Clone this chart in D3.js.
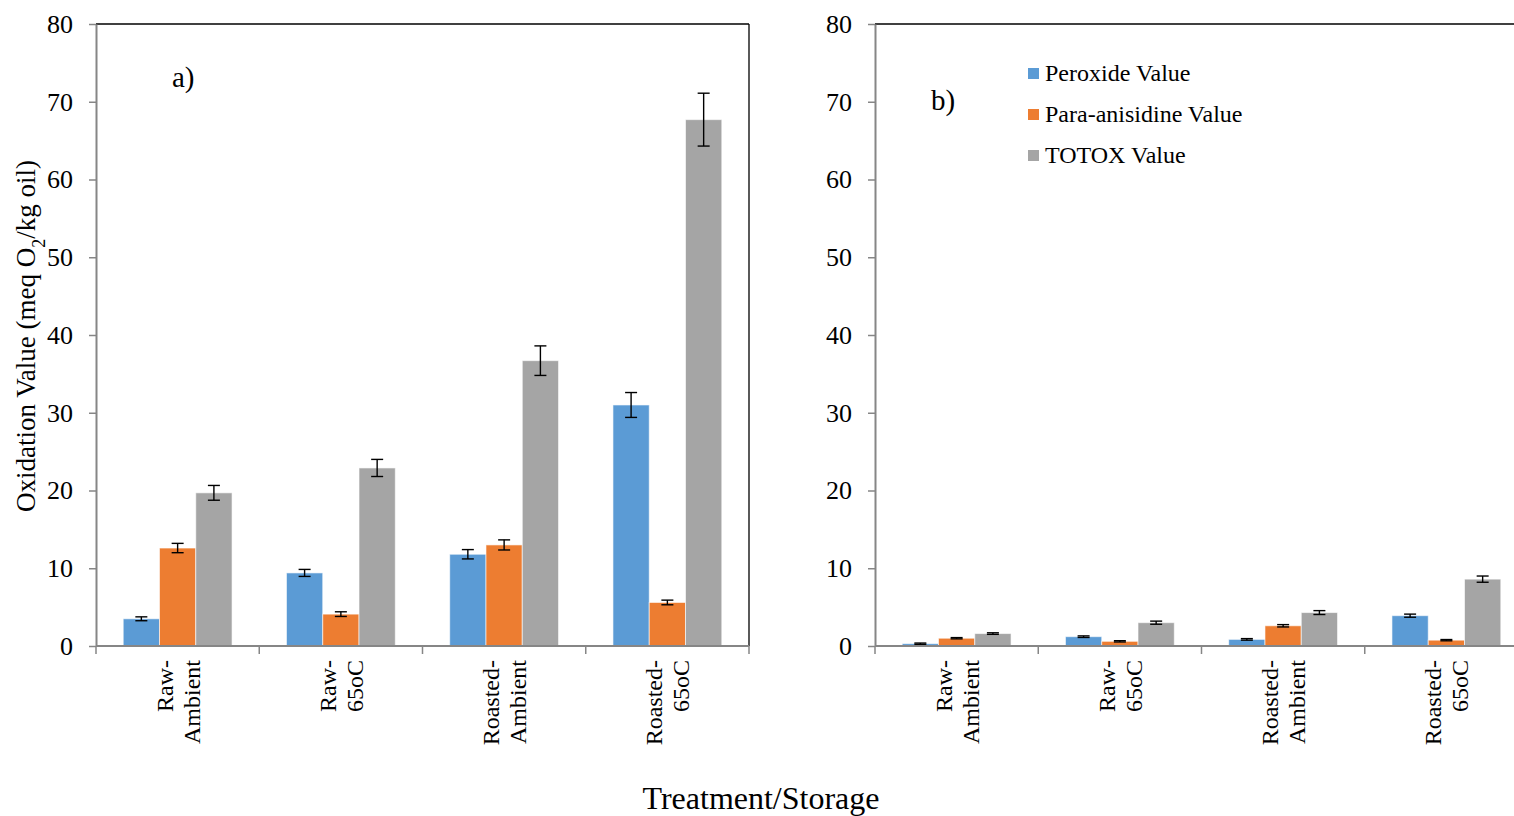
<!DOCTYPE html>
<html>
<head>
<meta charset="utf-8">
<script src="https://cdn.jsdelivr.net/npm/d3@7"></script>
<style>
  html, body { margin: 0; padding: 0; background: #fff; }
  svg { display: block; }
  text { font-family: "Liberation Serif", "Times New Roman", serif; fill: #000; }
</style>
</head>
<body>
<svg id="chart" width="1514" height="816"></svg>
<script>
// ---- data ----
const categories = ["Raw-Ambient", "Raw-65oC", "Roasted-Ambient", "Roasted-65oC"];
const categoryLines = [["Raw-", "Ambient"], ["Raw-", "65oC"], ["Roasted-", "Ambient"], ["Roasted-", "65oC"]];
const seriesNames = ["Peroxide Value", "Para-anisidine Value", "TOTOX Value"];
const seriesColors = ["#5B9BD5", "#ED7D31", "#A5A5A5"];
const yTicks = [0, 10, 20, 30, 40, 50, 60, 70, 80];

// panel a)
const aPeroxide = [3.5, 9.4, 11.8, 31.0];
const aPeroxideErr = [0.25, 0.45, 0.6, 1.6];
const aAnisidine = [12.6, 4.1, 13.0, 5.6];
const aAnisidineErr = [0.6, 0.3, 0.65, 0.3];
const aTotox = [19.7, 22.9, 36.7, 67.7];
const aTotoxErr = [0.95, 1.1, 1.9, 3.4];

// panel b)
const bPeroxide = [0.3, 1.2, 0.85, 3.9];
const bPeroxideErr = [0.08, 0.1, 0.1, 0.2];
const bAnisidine = [1.0, 0.6, 2.6, 0.75];
const bAnisidineErr = [0.08, 0.08, 0.15, 0.08];
const bTotox = [1.6, 3.0, 4.3, 8.6];
const bTotoxErr = [0.1, 0.2, 0.25, 0.4];

// ---- drawing ----
const svg = d3.select("#chart");
const yTop = 24, yBottom = 646;
const panelWidth = 653;

function drawPanel(x0, values, errors, label, labelPos) {
  const g = svg.append("g");
  const y = d3.scaleLinear().domain([0, 80]).range([yBottom, yTop]);
  const x = d3.scaleBand().domain(categories).range([x0, x0 + panelWidth]);
  const bw = x.bandwidth();
  const xs = d3.scaleBand().domain(seriesNames).range([bw / 6, bw * 5 / 6]);

  // frame: top and right borders
  g.append("line").attr("x1", x0).attr("x2", x0 + panelWidth).attr("y1", yTop).attr("y2", yTop)
    .attr("stroke", "#000").attr("stroke-width", 1.3);
  g.append("line").attr("x1", x0 + panelWidth).attr("x2", x0 + panelWidth).attr("y1", yTop).attr("y2", yBottom)
    .attr("stroke", "#000").attr("stroke-width", 1.3);

  // bars
  seriesNames.forEach((s, si) => {
    const vals = values[si], errs = errors[si];
    categories.forEach((c, ci) => {
      const bx = x(c) + xs(s);
      g.append("rect")
        .attr("x", bx).attr("width", xs.bandwidth())
        .attr("y", y(vals[ci])).attr("height", y(0) - y(vals[ci]))
        .attr("fill", seriesColors[si])
        .attr("stroke", "#ffffff").attr("stroke-opacity", 0.6).attr("stroke-width", 1);
      const cx = bx + xs.bandwidth() / 2;
      const hi = y(vals[ci] + errs[ci]), lo = y(vals[ci] - errs[ci]);
      g.append("line").attr("x1", cx).attr("x2", cx).attr("y1", hi).attr("y2", lo)
        .attr("stroke", "#000").attr("stroke-width", 1.4);
      [hi, lo].forEach(yy => g.append("line").attr("x1", cx - 6).attr("x2", cx + 6).attr("y1", yy).attr("y2", yy)
        .attr("stroke", "#000").attr("stroke-width", 1.4));
    });
  });

  // y axis
  const yAxis = d3.axisLeft(y).tickValues(yTicks).tickSize(7).tickPadding(16).tickSizeOuter(0);
  const ya = g.append("g").attr("transform", `translate(${x0},0)`).call(yAxis);
  ya.select(".domain").attr("stroke", "#868686").attr("stroke-width", 2);
  ya.selectAll(".tick line").attr("stroke", "#868686").attr("stroke-width", 1.5);
  ya.selectAll(".tick text").style("font-family", '"Liberation Serif", "Times New Roman", serif')
    .style("font-size", "26px").attr("fill", "#000");

  // x axis line + ticks at band boundaries
  g.append("line").attr("x1", x0).attr("x2", x0 + panelWidth).attr("y1", yBottom).attr("y2", yBottom)
    .attr("stroke", "#868686").attr("stroke-width", 2);
  const bounds = categories.map(c => x(c)).concat([x.range()[1]]);
  bounds.forEach(bx => g.append("line").attr("x1", bx).attr("x2", bx).attr("y1", yBottom).attr("y2", yBottom + 8)
    .attr("stroke", "#868686").attr("stroke-width", 1.5));

  // category labels (rotated)
  categories.forEach((c, ci) => {
    const cx = x(c) + bw / 2;
    const t = g.append("text")
      .attr("transform", `translate(${cx},660) rotate(-90)`)
      .attr("text-anchor", "end")
      .style("font-size", "24px");
    categoryLines[ci].forEach((ln, li) => {
      t.append("tspan").attr("x", 0).attr("y", li === 0 ? -5 : 22).text(ln);
    });
  });

  // panel label
  g.append("text").attr("x", labelPos[0]).attr("y", labelPos[1]).style("font-size", "29px").text(label);
}

drawPanel(96, [aPeroxide, aAnisidine, aTotox], [aPeroxideErr, aAnisidineErr, aTotoxErr], "a)", [172, 87]);
drawPanel(875, [bPeroxide, bAnisidine, bTotox], [bPeroxideErr, bAnisidineErr, bTotoxErr], "b)", [931, 110]);

// legend
const legend = svg.append("g").attr("transform", "translate(1028,0)");
seriesNames.forEach((s, i) => {
  const by = 81 + i * 41;
  legend.append("rect").attr("x", 0).attr("y", by - 13).attr("width", 11).attr("height", 11).attr("fill", seriesColors[i]);
  legend.append("text").attr("x", 17).attr("y", by).style("font-size", "24px").text(s);
});

// y title
const yt = svg.append("text")
  .attr("transform", "translate(35,336) rotate(-90)")
  .attr("text-anchor", "middle")
  .style("font-size", "27px");
yt.append("tspan").text("Oxidation Value (meq O");
yt.append("tspan").attr("baseline-shift", "sub").style("font-size", "18px").text("2");
yt.append("tspan").text("/kg oil)");

// x title
svg.append("text").attr("x", 761).attr("y", 809).attr("text-anchor", "middle")
  .style("font-size", "32px").text("Treatment/Storage");
</script>
</body>
</html>
